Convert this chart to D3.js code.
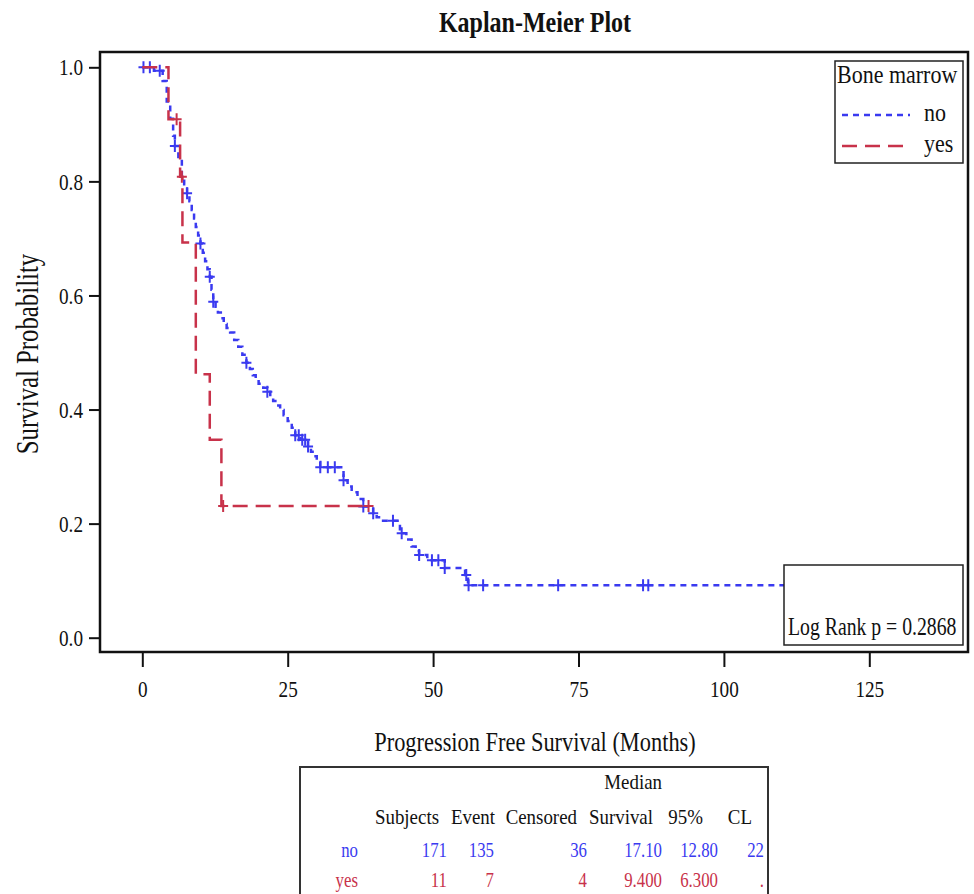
<!DOCTYPE html>
<html>
<head>
<meta charset="utf-8">
<script src="https://cdn.jsdelivr.net/npm/d3@7"></script>
<style>
  body { margin: 0; background: #fff; }
  text { font-family: "Liberation Serif", "DejaVu Serif", serif; fill: #111; }
</style>
</head>
<body>
<div id="chart"></div>
<script>
// KM step points: month, survival
const noTimes = [0, 2.0, 3.5, 4.2, 4.8, 5.3, 5.6, 6.2, 6.8, 7.2, 7.7, 8.1, 8.5, 8.9, 9.2, 9.6, 10.0, 10.4, 10.8, 11.2, 11.6,
    11.9, 12.2, 12.6, 13.0, 13.5, 14.0, 14.5, 15.1, 15.8, 16.5, 17.2, 17.9, 18.5, 19.0, 19.5, 20.0, 20.8, 21.5, 22.0, 22.5,
    23.1, 23.7, 24.3, 25.0, 25.7, 26.3, 27.2, 28.5, 29.0, 29.5, 30.0, 30.6, 34.6, 35.3, 36.0, 37.0, 38.0, 39.7, 40.3, 41.0,
    44.3, 44.6, 45.4, 46.3, 47.0, 47.6, 49.0, 52.0, 55.5, 56.0, 115];
const noSurv = [1.0, 0.994, 0.976, 0.94, 0.91, 0.88, 0.862, 0.84, 0.81, 0.795, 0.779, 0.765, 0.75, 0.735, 0.72, 0.705, 0.691, 0.675, 0.66, 0.646, 0.633,
    0.61, 0.589, 0.58, 0.57, 0.56, 0.55, 0.543, 0.535, 0.522, 0.51, 0.496, 0.482, 0.471, 0.46, 0.452, 0.445, 0.438, 0.431, 0.423, 0.415,
    0.407, 0.399, 0.39, 0.38, 0.368, 0.355, 0.347, 0.335, 0.326, 0.318, 0.308, 0.299, 0.276, 0.265, 0.255, 0.243, 0.23, 0.218, 0.211, 0.205,
    0.19, 0.183, 0.172, 0.16, 0.152, 0.145, 0.136, 0.122, 0.11, 0.092, 0.092];
const noCensored = [0.2, 1.3, 3.0, 5.6, 7.7, 10.0, 11.6, 12.2, 17.9, 21.5, 26.3, 26.9, 27.5, 28.0, 28.5, 30.6, 31.9, 33.1,
    34.6, 38.0, 39.7, 43.1, 44.6, 47.6, 49.8, 50.9, 52.0, 55.7, 56.1, 58.6, 71.5, 86.1, 87.0];

const yesTimes = [0, 4.5, 6.5, 6.9, 9.2, 11.6, 13.6, 38.9];
const yesSurv = [1.0, 0.909, 0.808, 0.693, 0.462, 0.347, 0.231, 0.231];
const yesCensored = [5.9, 6.8, 13.9, 38.9];

const xTicks = [0, 25, 50, 75, 100, 125];
const yTicks = [0.0, 0.2, 0.4, 0.6, 0.8, 1.0];

// summary table
const groups = ["no", "yes"];
const subjects = [171, 11];
const events = [135, 7];
const censored = [36, 4];
const medianSurvival = ["17.10", "9.400"];
const clLower = ["12.80", "6.300"];
const clUpper = ["22", "."];

const logRankText = "Log Rank p = 0.2868";

const blue = "#3a3af0";
const red = "#c8324a";

// the original font is a narrow serif, squeeze text horizontally
function condense(sel, k) {
    sel.each(function() {
        const t = d3.select(this);
        const xv = +t.attr("x") || 0;
        t.attr("x", xv / k)
         .attr("transform", (t.attr("transform") || "") + ` scale(${k},1)`);
    });
}

const svg = d3.select("#chart").append("svg")
    .attr("width", 974)
    .attr("height", 894);

const frame = { left: 100, right: 968, top: 52, bottom: 652 };

const x = d3.scaleLinear().domain([0, 125]).range([142.3, 869.3]);
const y = d3.scaleLinear().domain([0, 1]).range([637.7, 67.3]);

// title
svg.append("text")
    .attr("x", 535).attr("y", 32)
    .attr("text-anchor", "middle")
    .style("font-size", "30px").style("font-weight", "bold")
    .text("Kaplan-Meier Plot")
    .call(condense, 0.8);

// axes
svg.append("g")
    .attr("transform", `translate(${frame.left},0)`)
    .call(d3.axisLeft(y).tickValues(yTicks).tickFormat(d3.format(".1f")).tickSize(11).tickPadding(6))
    .call(g => g.select(".domain").remove())
    .call(g => g.selectAll("line").attr("stroke", "#111").attr("stroke-width", 2))
    .call(g => g.selectAll("text").style("font-size", "24px").attr("font-family", null).call(condense, 0.8));

svg.append("g")
    .attr("transform", `translate(0,${frame.bottom})`)
    .call(d3.axisBottom(x).tickValues(xTicks).tickSize(15).tickPadding(13))
    .call(g => g.select(".domain").remove())
    .call(g => g.selectAll("line").attr("stroke", "#111").attr("stroke-width", 2))
    .call(g => g.selectAll("text").style("font-size", "24px").attr("font-family", null).call(condense, 0.8));

svg.append("text")
    .attr("x", 535).attr("y", 751)
    .attr("text-anchor", "middle")
    .style("font-size", "28px")
    .text("Progression Free Survival (Months)")
    .call(condense, 0.8);

svg.append("text")
    .attr("transform", "translate(38,354) rotate(-90)")
    .attr("text-anchor", "middle")
    .style("font-size", "31px")
    .text("Survival Probability")
    .call(condense, 0.8);

// curves
const line = d3.line()
    .x(d => x(d[0]))
    .y(d => y(d[1]))
    .curve(d3.curveStepAfter);

function survAt(times, surv, t) {
    const i = d3.bisectRight(times, t) - 1;
    return surv[Math.max(0, i)];
}

const plot = svg.append("g");

function drawGroup(times, surv, cens, color, dash) {
    const pts = times.map((t, i) => [t, surv[i]]);
    plot.append("path")
        .datum(pts)
        .attr("fill", "none")
        .attr("stroke", color)
        .attr("stroke-width", 2.5)
        .attr("stroke-dasharray", dash)
        .attr("d", line);
    plot.selectAll(null)
        .data(cens)
        .enter().append("path")
        .attr("transform", d => `translate(${x(d)},${y(survAt(times, surv, d))})`)
        .attr("d", "M-5,0H5M0,-6V6")
        .attr("stroke", color)
        .attr("stroke-width", 2);
}

drawGroup(noTimes, noSurv, noCensored, blue, "6,5");
drawGroup(yesTimes, yesSurv, yesCensored, red, "15,8");

// frame
svg.append("rect")
    .attr("x", frame.left).attr("y", frame.top)
    .attr("width", frame.right - frame.left).attr("height", frame.bottom - frame.top)
    .attr("fill", "none").attr("stroke", "#111").attr("stroke-width", 2.5);

// legend
const legend = svg.append("g");
legend.append("rect")
    .attr("x", 835).attr("y", 61).attr("width", 128).attr("height", 102)
    .attr("fill", "#fff").attr("stroke", "#222").attr("stroke-width", 1.5);
legend.append("text")
    .attr("x", 837).attr("y", 83)
    .style("font-size", "25px")
    .text("Bone marrow")
    .call(condense, 0.88);
const legendItems = [
    { label: groups[0], color: blue, dash: "6,5", y: 115 },
    { label: groups[1], color: red, dash: "15,8", y: 146 }
];
legendItems.forEach(d => {
    legend.append("line")
        .attr("x1", 842).attr("x2", 910).attr("y1", d.y).attr("y2", d.y)
        .attr("stroke", d.color).attr("stroke-width", 2.5).attr("stroke-dasharray", d.dash);
    legend.append("text")
        .attr("x", 924).attr("y", d.y + 6)
        .style("font-size", "25px")
        .text(d.label)
        .call(condense, 0.88);
});

// log rank box
svg.append("rect")
    .attr("x", 784).attr("y", 565).attr("width", 179).attr("height", 80)
    .attr("fill", "#fff").attr("stroke", "#222").attr("stroke-width", 1.5);
svg.append("text")
    .attr("x", 788).attr("y", 635)
    .style("font-size", "25px")
    .text(logRankText)
    .call(condense, 0.79);

// summary table
const table = svg.append("g");
table.append("rect")
    .attr("x", 300).attr("y", 767).attr("width", 468).attr("height", 140)
    .attr("fill", "#fff").attr("stroke", "#333").attr("stroke-width", 2);

const headers = [
    { text: "Median", x: 662, y: 789 },
    { text: "Subjects", x: 439, y: 824 },
    { text: "Event", x: 495, y: 824 },
    { text: "Censored", x: 577, y: 824 },
    { text: "Survival", x: 653, y: 824 },
    { text: "95%", x: 703, y: 824 },
    { text: "CL", x: 752, y: 824 }
];
table.selectAll(".hdr")
    .data(headers)
    .enter().append("text")
    .attr("class", "hdr")
    .attr("x", d => d.x).attr("y", d => d.y)
    .attr("text-anchor", "end")
    .style("font-size", "21px")
    .text(d => d.text)
    .call(condense, 0.9);

const colX = [358, 447, 494, 587, 662, 718, 764];
const rowY = [857, 887];
const rowColors = [blue, red];
groups.forEach((g, i) => {
    const cells = [g, subjects[i], events[i], censored[i], medianSurvival[i], clLower[i], clUpper[i]];
    table.selectAll(null)
        .data(cells)
        .enter().append("text")
        .attr("x", (d, j) => colX[j]).attr("y", rowY[i])
        .attr("text-anchor", "end")
        .style("font-size", "21px")
        .style("fill", rowColors[i])
        .text(d => d)
        .call(condense, 0.8);
});
</script>
</body>
</html>
